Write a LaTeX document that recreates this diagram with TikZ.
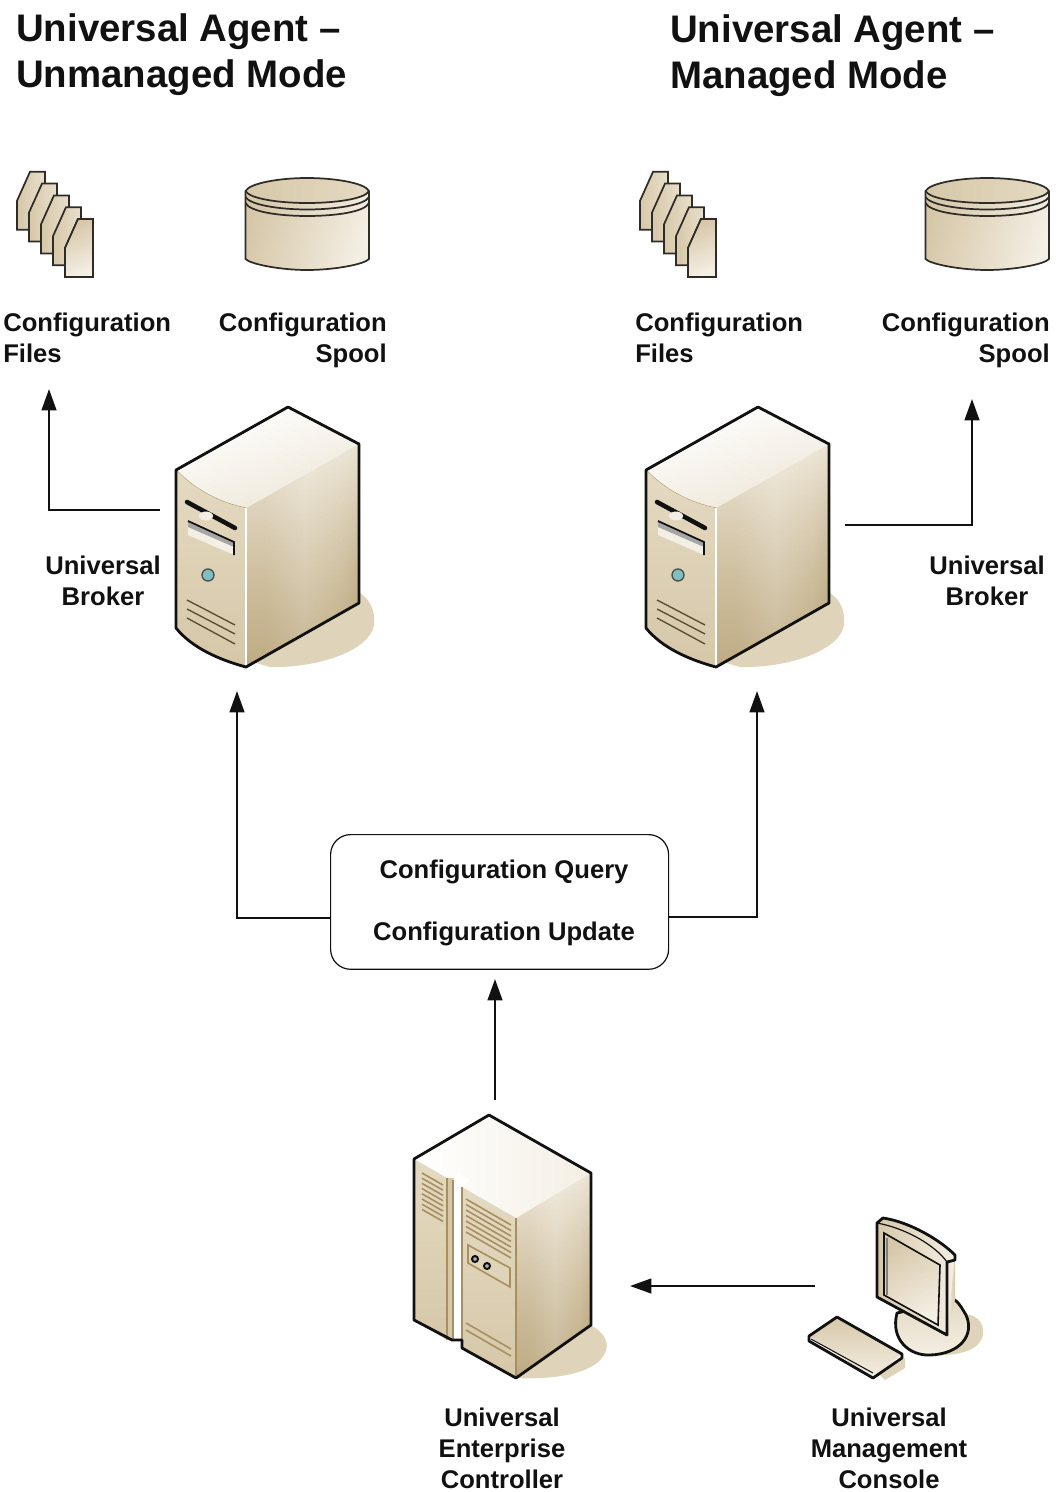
\documentclass[tikz,border=0pt]{standalone}
\usepackage{fontspec}
\setmainfont{Liberation Sans}
\usetikzlibrary{arrows.meta,fadings,shapes.geometric}
\definecolor{shadowc}{HTML}{DFD3BA}
\definecolor{ink}{HTML}{111111}
\definecolor{lightc}{HTML}{F4EFE4}
\definecolor{midc}{HTML}{D6C7A8}
\definecolor{darkc}{HTML}{B39E72}
\definecolor{frontc}{HTML}{E4DAC2}
\definecolor{vent}{HTML}{5A4C30}
\definecolor{tanline}{HTML}{A88F60}
\pgfdeclarehorizontalshading{sideshade}{100bp}{color(0bp)=(midc);color(38bp)=(midc);color(56bp)=(lightc!70!midc);color(72bp)=(midc);color(84bp)=(darkc);color(110bp)=(darkc)}
\tikzset{
  x=0.75pt,y=-0.75pt,
  edge/.style={draw=ink,line width=2.1pt,line join=round},
  thinedge/.style={draw=ink!85!midc,line width=1.3pt,line join=miter},
  flow/.style={draw=ink,line width=1.7pt,-{Triangle[length=16pt,width=11pt]}},
  label/.style={font=\fontsize{19.2}{23.25}\selectfont\bfseries,text=ink,inner sep=0pt},
  titletext/.style={font=\fontsize{28.8}{34.5}\selectfont\bfseries,text=ink,inner sep=0pt,align=left,anchor=north west},
  ventline/.style={draw=vent,line width=1pt},
  tanvent/.style={draw=tanline,line width=1.2pt},
  server/.pic={
    \fill[shadowc] (340,585) .. controls (365,590) and (376,605) .. (374,625) .. controls (370,650) and (320,668) .. (270,667) -- (246,660) -- cycle;
    \shade[shading=sideshade] (246,508) -- (359,444) -- (359,603) -- (246,667) -- cycle;
    \fill[lightc,opacity=.85,path fading=south] (246,508) -- (359,444) -- (359,603) -- (246,667) -- cycle;
    \fill[darkc,opacity=.65,path fading=north] (246,508) -- (359,444) -- (359,603) -- (246,667) -- cycle;
    \shade[left color=white,right color=lightc!80!midc,shading angle=20] (176,470) -- (288,407) -- (359,444) -- (246,508) .. controls (220,503) and (195,490) .. (176,470) -- cycle;
    \draw[draw=tanline,line width=.7pt] (176,470) .. controls (195,490) and (220,503) .. (246,508);
    \shade[top color=frontc,bottom color=midc] (176,470) .. controls (195,490) and (220,503) .. (246,508) -- (246,667) .. controls (220,660) and (192,648) .. (176,628) -- cycle;
    \draw[white,line width=.9pt] (246,508) -- (246,667);
    \fill[lightc] (188,521) -- (234,542) -- (234,555) -- (188,535) -- cycle;
    \fill[gray!70] (188,521) -- (234,542) -- (234,547) -- (188,527) -- cycle;
    \draw[ink,line width=1.3pt] (188,521) -- (234,542) -- (234,555);
    \draw[ink,line width=3.4pt,line cap=round] (187,502) -- (235,528);
    \fill[lightc] (206,516) ellipse (7 and 4.5);
    \filldraw[fill=teal!50!white,draw=ink!75,line width=1pt] (208,575) circle (6);
    \draw[ventline] (187,600) -- (235,625) (187,609) -- (235,634) (187,618) -- (235,644);
    \draw[edge] (176,470) -- (288,407) -- (359,444) -- (359,603) -- (246,667) .. controls (220,660) and (192,648) .. (176,628) -- cycle;
  },
  enterprise/.pic={
    \fill[shadowc] (575,1320) .. controls (600,1325) and (610,1340) .. (606,1350) .. controls (600,1372) and (560,1380) .. (516,1378) -- cycle;
    \shade[shading=sideshade] (516,1218) -- (591,1173) -- (591,1325) -- (516,1378) -- cycle;
    \fill[lightc,opacity=.85,path fading=south] (516,1218) -- (591,1173) -- (591,1325) -- (516,1378) -- cycle;
    \fill[darkc,opacity=.65,path fading=north] (516,1218) -- (591,1173) -- (591,1325) -- (516,1378) -- cycle;
    \shade[left color=white,right color=lightc] (414,1159) -- (489,1115) -- (591,1173) -- (516,1218) -- cycle;
    \shade[top color=frontc,bottom color=midc] (414,1159) -- (447,1178) -- (447,1340) -- (414,1320) -- cycle;
    \shade[top color=frontc,bottom color=midc] (462,1187) -- (516,1218) -- (516,1378) -- (462,1348) -- cycle;
    \fill[midc] (447,1178) -- (454,1178) -- (454,1340) -- (447,1340) -- cycle;
    \fill[white] (453,1180) -- (458,1173) -- (470,1180) -- (462,1187) -- (462,1340) -- (455,1340) -- (455,1182) -- cycle;
    \draw[tanvent] (447,1178) -- (447,1340) (453,1180) -- (453,1340) (462,1187) -- (462,1348);
    \draw[tanvent] (516,1218) -- (516,1378);
    \foreach \k in {0,...,7} \draw[tanvent] (422,1173+\k*5.2) -- (443,1185+\k*5.2);
    \foreach \k in {0,...,6} \draw[tanvent] (466,1199+\k*5.5) -- (511,1225+\k*5.5);
    \draw[tanvent,fill=frontc!92!tanline] (468,1245) -- (510,1268) -- (510,1287) -- (468,1263) -- cycle;
    \filldraw[fill=gray!60,draw=ink,line width=1.5pt] (475,1259) circle (3) (487,1266) circle (3);
    \draw[tanvent] (466,1323) -- (511,1349) (466,1330) -- (511,1356);
    \draw[edge] (414,1159) -- (489,1115) -- (591,1173) -- (591,1325) -- (516,1378) -- (462,1348) -- (462,1340) -- (452,1340) -- (414,1320) -- cycle;
  },
  console/.pic={
    \fill[shadowc] (960,1315) .. controls (975,1312) and (985,1322) .. (983,1335) .. controls (980,1350) and (960,1355) .. (940,1355) -- cycle;
    \fill[shadowc] (880,1375) -- (905,1358) -- (905,1368) -- (885,1380) -- cycle;
    \filldraw[edge,top color=frontc,bottom color=lightc] (897,1313) .. controls (890,1340) and (910,1356) .. (930,1355) .. controls (960,1354) and (975,1335) .. (966,1315) .. controls (963,1310) and (960,1304) .. (955,1300) -- cycle;
    \shade[left color=lightc,right color=midc] (949,1258) -- (955,1255) -- (955,1300) -- (947,1335) -- cycle;
    \shade[left color=midc,right color=lightc] (877,1223) -- (883,1218) .. controls (910,1222) and (940,1240) .. (955,1255) -- (947,1335) -- (877,1297) -- cycle;
    \shade[left color=midc,right color=lightc,shading angle=30] (884,1233) -- (940,1265) -- (938,1325) -- (884,1295) -- cycle;
    \draw[ink,line width=1.2pt] (884,1233) -- (940,1265) -- (938,1325) -- (884,1295) -- cycle;
    \draw[gray,line width=1pt] (887,1238) -- (887,1295);
    \draw[ink,line width=.9pt] (877,1223) .. controls (905,1228) and (935,1245) .. (947,1262) -- (947,1335);
    \draw[edge] (877,1223) -- (883,1218) .. controls (910,1222) and (940,1240) .. (955,1255) -- (955,1260) -- (947,1262) -- (947,1335) -- (877,1297) -- cycle;
    \shade[top color=midc,bottom color=lightc] (837,1317) -- (902,1354) -- (873,1378) -- (809,1336) -- cycle;
    \draw[ink,line width=.8pt] (811,1339) -- (873,1373);
    \draw[edge] (837,1317) -- (902,1354) -- (902,1358) -- (873,1378) -- (809,1341) -- (809,1336) -- cycle;
  },
  filestack/.pic={
    \foreach \k in {4,3,2,1,0}{
      \shade[left color=midc,right color=lightc!60!midc] ({65-12*\k},{248-11.8*\k}) -- ({78-12*\k},{219-11.8*\k}) -- ({93-12*\k},{219-11.8*\k}) -- ({93-12*\k},{277-11.8*\k}) -- ({65-12*\k},{277-11.8*\k}) -- cycle;
      \draw[thinedge] ({65-12*\k},{248-11.8*\k}) -- ({78-12*\k},{219-11.8*\k}) -- ({93-12*\k},{219-11.8*\k}) -- ({93-12*\k},{277-11.8*\k}) -- ({65-12*\k},{277-11.8*\k}) -- cycle;
    }
    \shade[left color=midc,right color=lightc,shading angle=20] (65,248) -- (78,219) -- (93,219) -- (93,277) -- (65,277) -- cycle;
    \draw[thinedge] (65,248) -- (78,219) -- (93,219) -- (93,277) -- (65,277) -- cycle;
  },
  spool/.pic={
    \shade[left color=midc,right color=lightc,shading angle=75] (245.5,191) -- (245.5,259) .. controls (250,264) and (280,270) .. (307,270) .. controls (335,270) and (365,264) .. (369,259) -- (369,191) -- cycle;
    \shade[left color=midc,right color=frontc] (307,191) ellipse (61.5 and 12.5);
    \draw[thinedge] (245.5,191) .. controls (250,199) and (280,203) .. (307,203) .. controls (335,203) and (365,199) .. (369,191);
    \draw[thinedge] (245.5,197) .. controls (250,205) and (280,209.5) .. (307,209.5) .. controls (335,209.5) and (365,205) .. (369,197);
    \draw[thinedge] (245.5,203) .. controls (250,212) and (280,216) .. (307,216) .. controls (335,216) and (365,212) .. (369,203);
    \draw[thinedge] (245.5,191) .. controls (250,183) and (280,178) .. (307,178) .. controls (335,178) and (365,183) .. (369,191) -- (369,259) .. controls (365,264) and (335,270) .. (307,270) .. controls (280,270) and (250,264) .. (245.5,259) -- cycle;
  }
}
\begin{document}
\begin{tikzpicture}
\useasboundingbox[fill=white] (0,0) rectangle (1056,1492);

% titles
\node[titletext] (titleL) at (16,13) {Universal Agent --\\Unmanaged Mode};
\node[titletext] (titleR) at (670,14) {Universal Agent --\\Managed Mode};

% icons
\pic (filesL) at (0,0) {filestack};
\pic (filesR) at (623,0) {filestack};
\pic (spoolL) at (0,0) {spool};
\pic (spoolR) at (680,0) {spool};
\pic (brokerL) at (0,0) {server};
\pic (brokerR) at (470,0) {server};
\pic (uec) at (0,0) {enterprise};
\pic (umc) at (0,0) {console};

% labels
\node[label,align=left,anchor=north west] (lblFilesL) at (3,313) {Configuration\\Files};
\node[label,align=right,anchor=north east] (lblSpoolL) at (387,313) {Configuration\\Spool};
\node[label,align=left,anchor=north west] (lblFilesR) at (635,313) {Configuration\\Files};
\node[label,align=right,anchor=north east] (lblSpoolR) at (1050,313) {Configuration\\Spool};
\node[label,align=center,anchor=north] (lblBrokerL) at (103,556) {Universal\\Broker};
\node[label,align=center,anchor=north] (lblBrokerR) at (987,556) {Universal\\Broker};
\node[label,align=center,anchor=north] (lblUEC) at (502,1408) {Universal\\Enterprise\\Controller};
\node[label,align=center,anchor=north] (lblUMC) at (889,1408) {Universal\\Management\\Console};

% central box
\node[draw=ink,line width=.9pt,rounded corners=15pt,fill=white,minimum width=253.5pt,minimum height=101pt,inner sep=0pt,anchor=north west] (cfg) at (330,834) {};
\node[align=center,inner sep=0pt,font=\fontsize{19.2}{46}\selectfont\bfseries,text=ink] (cfgText) at (504,903) {Configuration Query\\Configuration Update};

% connector ends
\coordinate (fromBrokerL) at (160,510);
\coordinate (toFilesL) at (49,389);
\coordinate (fromBrokerR) at (845,525);
\coordinate (toSpoolR) at (972,399);
\coordinate (cfgW) at (330,918);
\coordinate (toBrokerL) at (237,691);
\coordinate (cfgE) at (668,917);
\coordinate (toBrokerR) at (757,691);
\coordinate (fromUEC) at (495,1100);
\coordinate (toCfg) at (495,979);
\coordinate (fromUMC) at (815,1286);
\coordinate (toUEC) at (630,1286);

% connectors
\draw[flow] (fromBrokerL) -| (toFilesL);
\draw[flow] (fromBrokerR) -| (toSpoolR);
\draw[flow] (cfgW) -| (toBrokerL);
\draw[flow] (cfgE) -| (toBrokerR);
\draw[flow] (fromUEC) -- (toCfg);
\draw[flow] (fromUMC) -- (toUEC);
\end{tikzpicture}
\end{document}
